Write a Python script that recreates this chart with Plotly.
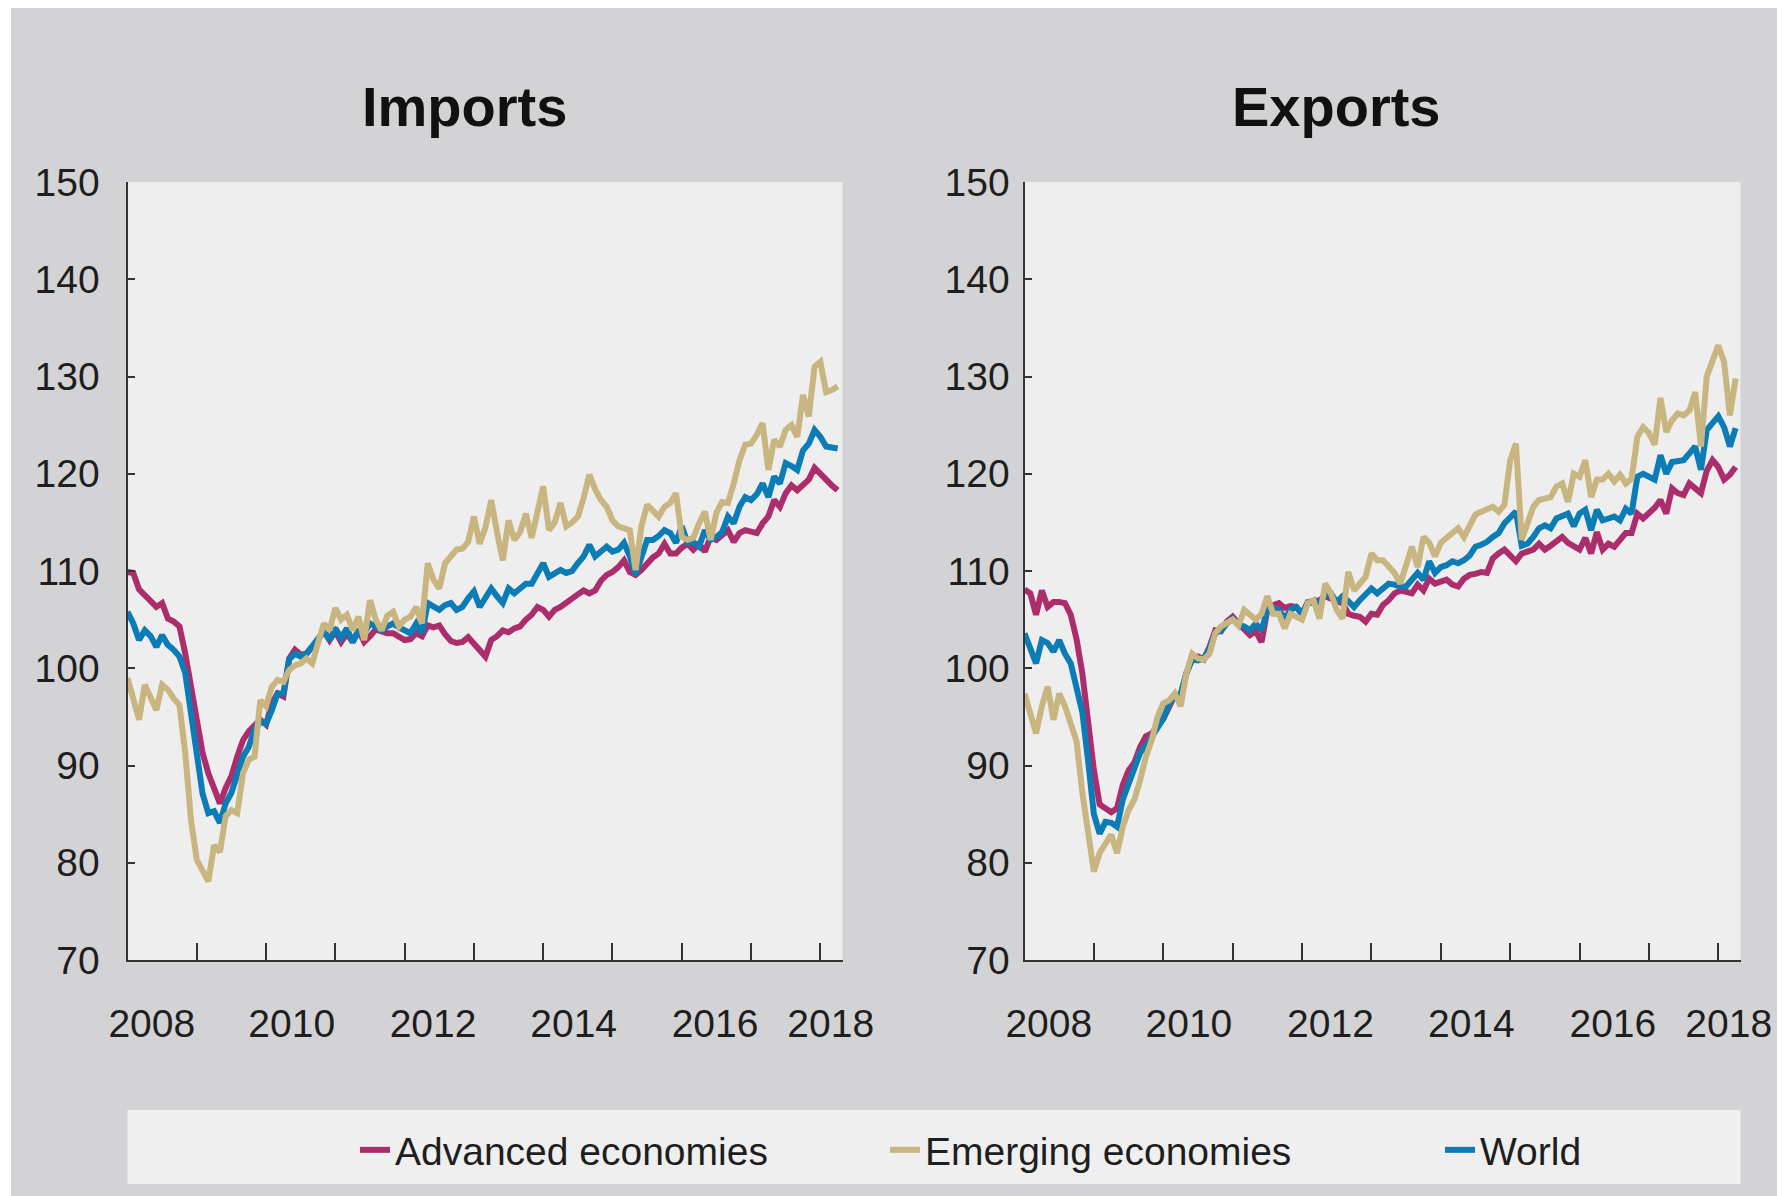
import plotly.graph_objects as go

# ---------------- data (monthly, Jan 2008 - Apr 2018) ----------------
start_year = 2008

imports_advanced = [
    109.9, 109.8, 108.1, 107.5, 106.9, 106.3, 106.7, 105.1, 104.8, 104.3, 101.5, 97.8,
    94.3, 91.3, 89.2, 87.8, 86.1, 87.7, 88.9, 90.9, 92.6, 93.5, 94.2, 94.7,
    94.2, 96.4, 97.4, 97.1, 101.0, 101.9, 101.4, 101.5, 102.2, 102.9, 103.9, 102.9,
    103.8, 102.7, 103.6, 102.7, 103.9, 102.7, 103.3, 104.0, 103.8, 103.6, 103.6, 103.3,
    102.9, 103.0, 103.6, 103.3, 104.4, 104.2, 104.4, 103.5, 102.8, 102.6, 102.7, 103.2,
    102.6, 102.0, 101.2, 102.9, 103.3, 103.9, 103.7, 104.1, 104.3, 105.0, 105.5, 106.3,
    106.0, 105.3, 106.0, 106.3, 106.8, 107.2, 107.6, 108.0, 107.7, 108.0, 109.0, 109.6,
    109.9, 110.4, 111.1, 109.9, 109.6, 110.1, 110.8, 111.4, 111.8, 112.8, 111.8, 111.8,
    112.4, 112.8, 112.2, 112.8, 112.0, 113.5, 113.2, 113.8, 114.2, 113.0, 113.9, 114.2,
    114.0, 113.9, 114.9, 115.6, 117.3, 116.6, 118.0, 118.8, 118.3, 118.9, 119.4, 120.6,
    120.0, 119.2, 118.8, 118.3,
]
imports_world = [
    105.8, 104.6, 102.9, 103.9, 103.3, 102.2, 103.4, 102.4, 101.9, 101.2, 99.5, 95.4,
    91.3, 87.1, 85.1, 85.3, 84.1, 86.1, 87.2, 88.9, 90.9, 91.9, 93.7, 94.5,
    94.3, 95.7, 97.4, 97.4, 100.9, 101.5, 101.2, 101.5, 102.2, 102.9, 103.8, 102.9,
    104.1, 103.1, 104.1, 102.7, 103.8, 103.6, 104.6, 104.3, 103.9, 104.3, 104.6, 104.2,
    103.9, 103.6, 104.6, 103.6, 106.7, 106.3, 106.0, 106.5, 106.7, 106.0, 106.3, 107.2,
    107.9, 106.3, 107.2, 108.2, 107.4, 106.7, 108.2, 107.7, 108.2, 108.7, 108.7, 109.8,
    110.8, 109.4, 109.7, 110.1, 109.8, 110.0, 110.8, 111.5, 112.7, 111.5, 112.0, 112.5,
    112.0, 112.2, 112.9, 111.5, 109.6, 111.5, 113.2, 113.2, 113.6, 114.2, 113.9, 112.9,
    114.6, 112.9, 113.0, 112.5, 114.2, 113.2, 113.5, 114.0, 115.6, 114.9, 116.6, 117.6,
    117.3, 117.9, 119.0, 117.6, 119.7, 119.0, 121.1, 120.8, 120.4, 122.4, 123.1, 124.5,
    123.8, 122.8, 122.7, 122.6,
]
imports_emerging = [
    99.0, 97.1, 94.7, 98.3, 97.1, 95.7, 98.3, 97.8, 96.9, 96.2, 91.3, 84.4,
    80.3, 79.3, 78.1, 81.8, 81.1, 84.8, 85.4, 85.1, 89.2, 90.6, 90.9, 96.7,
    96.1, 98.1, 98.8, 98.6, 99.8, 100.3, 100.5, 101.0, 100.5, 102.6, 104.6, 103.9,
    106.2, 105.0, 105.5, 103.9, 105.3, 102.9, 107.0, 105.0, 103.9, 105.4, 105.8, 104.3,
    105.0, 105.3, 106.3, 104.6, 110.8, 109.1, 108.2, 110.8, 111.5, 112.2, 112.3, 113.0,
    115.6, 112.8, 114.5, 117.3, 114.0, 111.1, 115.2, 113.2, 114.0, 115.9, 113.4, 116.0,
    118.7, 114.2, 115.0, 117.0, 114.6, 115.0, 115.6, 117.5, 119.9, 118.4, 117.3, 116.6,
    115.2, 114.6, 114.4, 114.2, 110.1, 114.6, 116.8, 116.3, 115.6, 116.6, 117.0, 118.0,
    113.5, 113.2, 113.4, 114.9, 116.1, 113.2, 116.0, 117.1, 117.0, 119.0, 121.4, 123.0,
    123.1, 124.0, 125.2, 120.4, 123.5, 122.8, 124.5, 125.0, 123.8, 128.1, 125.9, 131.0,
    131.5, 128.4, 128.6, 129.0,
]

exports_advanced = [
    108.1, 107.7, 105.5, 108.0, 106.3, 106.8, 106.8, 106.7, 105.5, 103.0, 99.5, 94.5,
    89.5, 86.0, 85.5, 85.2, 85.6, 88.0, 89.5, 90.3, 91.9, 93.0, 93.3, 94.0,
    94.8, 96.0, 97.3, 97.2, 99.5, 101.0, 101.2, 100.9, 102.2, 103.9, 103.8, 104.8,
    105.3, 104.6, 103.9, 103.4, 103.8, 102.7, 106.0, 106.5, 106.7, 106.2, 106.4, 106.3,
    105.6, 106.8, 106.9, 107.0, 107.4, 107.1, 106.9, 106.7, 105.6, 105.4, 105.3, 104.8,
    105.6, 105.5, 106.5, 107.0, 107.7, 108.0, 107.9, 107.7, 108.6, 108.0, 109.2, 108.7,
    108.9, 109.1, 108.6, 108.4, 109.2, 109.6, 109.7, 109.9, 109.8, 111.3, 111.8, 112.2,
    111.6, 111.0, 111.8, 112.0, 112.2, 112.8, 112.2, 112.6, 113.0, 113.5, 112.9, 112.5,
    112.2, 113.4, 111.8, 114.0, 112.2, 112.8, 112.5, 113.2, 113.9, 113.9, 115.9, 115.4,
    115.9, 116.5, 117.3, 115.9, 118.5, 118.0, 117.8, 119.0, 118.5, 118.0, 120.3, 121.4,
    120.7, 119.4, 119.9, 120.7,
]
exports_world = [
    103.6, 102.2, 100.5, 102.9, 102.6, 101.7, 102.9, 101.5, 100.5, 98.0, 95.5, 90.5,
    85.0, 83.0, 84.2, 84.1, 83.7, 86.5, 88.2, 89.7, 91.3, 92.0, 93.0, 94.0,
    94.8, 96.3, 97.1, 97.3, 99.5, 100.9, 100.8, 101.0, 102.0, 103.6, 103.9, 104.6,
    105.1, 104.5, 104.3, 103.9, 104.6, 103.9, 106.0, 106.2, 106.0, 105.1, 106.0, 106.3,
    105.6, 106.7, 106.8, 106.8, 107.5, 107.7, 106.8, 107.4, 106.9, 106.3, 107.0, 107.5,
    108.2, 107.7, 108.2, 108.7, 108.6, 108.4, 108.4, 109.1, 109.8, 109.1, 111.0, 109.8,
    110.4, 110.6, 111.0, 110.8, 111.1, 111.6, 112.5, 112.7, 113.0, 113.5, 113.9, 114.9,
    115.5, 116.1, 112.6, 112.8, 113.5, 114.4, 114.7, 114.4, 115.4, 115.6, 115.9, 114.6,
    115.9, 116.3, 114.2, 116.3, 115.2, 115.4, 115.6, 115.2, 116.4, 115.9, 119.7, 120.0,
    119.7, 119.4, 121.9, 120.0, 121.2, 121.3, 121.4, 122.1, 122.8, 120.4, 124.5, 125.2,
    125.9, 124.8, 122.8, 124.7,
]
exports_emerging = [
    97.4, 95.4, 93.3, 96.1, 98.1, 94.7, 97.4, 96.1, 94.5, 92.5, 87.2, 83.0,
    79.1, 81.0, 82.0, 82.9, 81.0, 83.7, 85.4, 86.5, 88.5, 90.9, 92.6, 95.0,
    96.4, 96.7, 97.4, 96.1, 99.5, 101.5, 101.0, 100.9, 101.5, 103.6, 104.3, 104.6,
    105.0, 104.4, 106.0, 105.5, 105.0, 105.6, 107.4, 105.6, 105.6, 104.1, 105.6, 105.3,
    105.0, 106.7, 107.0, 105.1, 108.7, 107.7, 106.0, 105.1, 109.9, 108.0, 108.8, 109.4,
    111.8, 111.1, 111.1, 110.5, 109.8, 108.7, 110.5, 112.5, 110.4, 113.5, 112.9, 111.5,
    112.9, 113.4, 113.9, 114.4, 113.5, 114.5, 115.8, 116.1, 116.3, 116.6, 116.1, 116.8,
    121.4, 123.1, 113.2, 114.8, 116.6, 117.3, 117.5, 117.6, 118.7, 119.0, 117.1, 120.0,
    119.7, 121.4, 117.6, 119.4, 119.4, 120.0, 119.2, 119.9, 119.0, 119.5, 123.8, 124.8,
    124.2, 123.0, 127.8, 124.3, 125.5, 126.2, 126.0, 126.5, 128.4, 122.8, 130.0, 131.5,
    133.2, 131.5, 126.0, 129.8,
]

series_names = ["Advanced economies", "Emerging economies", "World"]
panel_titles = ["Imports", "Exports"]
year_ticks = [2009, 2010, 2011, 2012, 2013, 2014, 2015, 2016, 2017, 2018]
label_text = ["2008", "2010", "2012", "2014", "2016", "2018"]
label_pos = [2008.35, 2010.37, 2012.41, 2014.44, 2016.48, 2018.15]
y_ticks = [70, 80, 90, 100, 110, 120, 130, 140, 150]

# ---------------- styling ----------------
# the page body adds an 8px offset; the figure is sized to fill the rest of the window
OFF = 8
W, H = 1785 - OFF, 1196 - OFF
FONT = "Liberation Sans, Arial, sans-serif"
COL = {"Advanced economies": "#ac2d6b", "Emerging economies": "#c9b57f", "World": "#0b7cb6"}
LEGEND_W = {"Advanced economies": 485, "Emerging economies": 510, "World": 120}
BG = "#d3d3d5"
PLOT_BG = "#eeeeee"
AXC = "#333333"
TXT = "#1e1e1e"
TICK_SIZE = 39


def px(x):
    return (x - OFF) / W


def py(y):
    return 1 - (y - OFF) / H


def months_to_x(n):
    return [start_year + i / 12 for i in range(n)]


fig = go.Figure()

panels = [
    ("x", "y", {"Advanced economies": imports_advanced, "Emerging economies": imports_emerging, "World": imports_world}),
    ("x2", "y2", {"Advanced economies": exports_advanced, "Emerging economies": exports_emerging, "World": exports_world}),
]
draw_order = ["Advanced economies", "World", "Emerging economies"]
rank = {n: i for i, n in enumerate(series_names)}

for pi, (xa, ya, data) in enumerate(panels):
    for name in draw_order:
        vals = data[name]
        fig.add_trace(go.Scatter(
            x=months_to_x(len(vals)), y=vals, mode="lines", name=name,
            line=dict(color=COL[name], width=6),
            xaxis=xa, yaxis=ya, showlegend=(pi == 0),
            legendrank=rank[name] + 1, legendwidth=LEGEND_W[name], hoverinfo="skip",
        ))

xdom1 = [px(127.5), px(842.5)]
xdom2 = [px(1024.5), px(1740.5)]
ydom = [py(960), py(182)]


def xaxis_cfg(domain, anchor):
    return dict(
        domain=domain, anchor=anchor, range=[2008.0, 2018.32],
        tickmode="array", tickvals=label_pos, ticktext=label_text, ticks="",
        showline=True, linecolor=AXC, linewidth=2, showgrid=False, zeroline=False,
        tickfont=dict(family=FONT, size=TICK_SIZE, color=TXT), ticklabelstandoff=28,
        automargin=False, fixedrange=True,
        minor=dict(tickmode="array", tickvals=year_ticks, ticks="inside", ticklen=17,
                   tickwidth=2, tickcolor=AXC, showgrid=False),
    )


def yaxis_cfg(anchor, standoff):
    return dict(
        domain=ydom, anchor=anchor, range=[70, 150],
        tickmode="array", tickvals=y_ticks, ticks="inside", ticklen=7, tickwidth=2, tickcolor=AXC,
        showline=True, linecolor=AXC, linewidth=2, showgrid=False, zeroline=False,
        tickfont=dict(family=FONT, size=TICK_SIZE, color=TXT), ticklabelstandoff=standoff,
        automargin=False, fixedrange=True,
    )


fig.update_layout(
    width=W, height=H,
    margin=dict(l=0, r=0, t=0, b=0, pad=0, autoexpand=False),
    paper_bgcolor=BG, plot_bgcolor=PLOT_BG,
    xaxis=xaxis_cfg(xdom1, "y"), yaxis=yaxis_cfg("x", 18),
    xaxis2=xaxis_cfg(xdom2, "y2"), yaxis2=yaxis_cfg("x2", 5),
    showlegend=True,
    legend=dict(
        orientation="h", x=px(355), xanchor="left", y=py(1150), yanchor="middle",
        font=dict(family=FONT, size=TICK_SIZE, color=TXT), bgcolor="rgba(0,0,0,0)",
        traceorder="normal",
    ),
    shapes=[
        dict(type="rect", xref="paper", yref="paper", x0=0, x1=px(11), y0=0, y1=1,
             fillcolor="white", line=dict(width=0), layer="below"),
        dict(type="rect", xref="paper", yref="paper", x0=px(127.5), x1=px(1740.5),
             y0=py(1184), y1=py(1110),
             fillcolor="#efefef", line=dict(width=0), layer="below"),
    ],
    annotations=[
        dict(text=panel_titles[0], x=px(464.5), y=py(106), xref="paper", yref="paper",
             xanchor="center", yanchor="middle", showarrow=False,
             font=dict(family=FONT, size=56, color="#111111", weight="bold")),
        dict(text=panel_titles[1], x=px(1336), y=py(106), xref="paper", yref="paper",
             xanchor="center", yanchor="middle", showarrow=False,
             font=dict(family=FONT, size=56, color="#111111", weight="bold")),
    ],
    hovermode=False,
)

fig.write_html("out.html", config={"displayModeBar": False})
